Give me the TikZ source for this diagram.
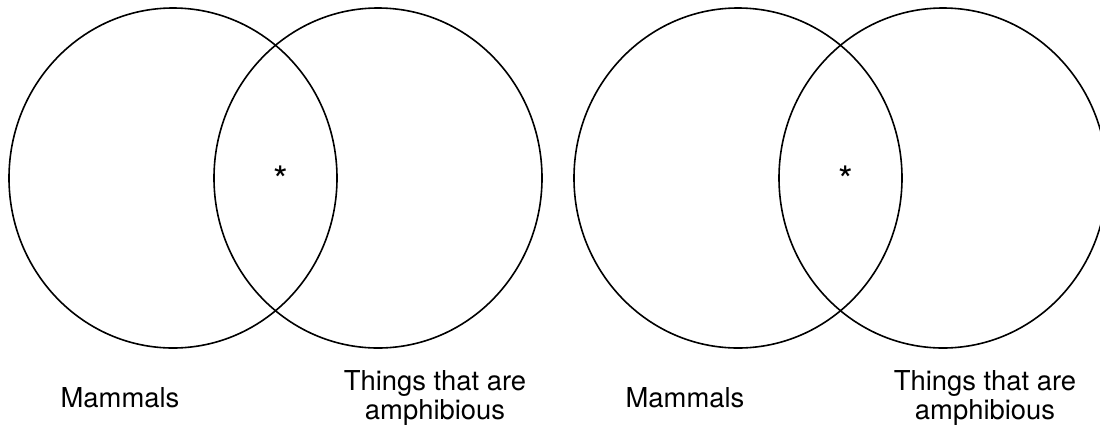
\documentclass[tikz,border=0pt]{standalone}
\usepackage{fontspec}
\setmainfont{TeX Gyre Heros}
\usetikzlibrary{shapes.geometric}

\begin{document}
\begin{tikzpicture}[x=1bp,y=-1bp,
set/.style={draw,ellipse,line width=1.6bp,minimum width=328bp,minimum height=340bp,inner sep=0pt},
lbl/.style={font=\fontsize{27.5}{29}\selectfont,align=center},
star/.style={font=\fontsize{38}{40}\selectfont,anchor=base}]
\clip (0,0) rectangle (1100,429);
% left pair
\node[set] (mamA) at (173,178) {};
\node[set] (amphA) at (378,178) {};
\node[star] (starA) at (281,193) {*};
\node[lbl] (labMamA) at (120,398) {Mammals};
\node[lbl] (labAmphA) at (435,398) {Things that are\\amphibious};
% right pair
\node[set] (mamB) at (738,178) {};
\node[set] (amphB) at (943,178) {};
\node[star] (starB) at (846,193) {*};
\node[lbl] (labMamB) at (685,398) {Mammals};
\node[lbl] (labAmphB) at (985,398) {Things that are\\amphibious};
\end{tikzpicture}
\end{document}
